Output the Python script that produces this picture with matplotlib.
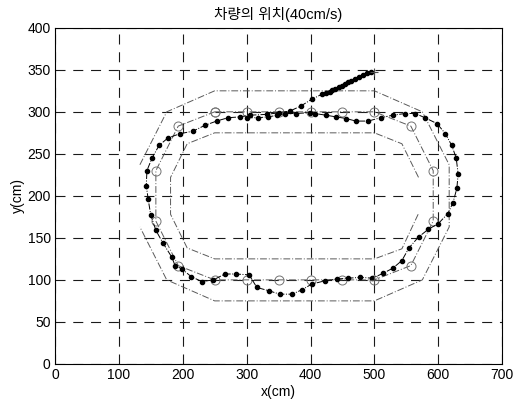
import matplotlib
matplotlib.use("Agg")
import matplotlib.pyplot as plt

plt.rcParams['font.family'] = ['Liberation Sans', 'Noto Sans CJK KR']

# track boundaries (cm)
outer_x = [133, 175, 250, 500, 575, 617, 617, 575, 500, 250, 175, 133]
outer_y = [237, 300, 325, 325, 300, 237, 163, 100, 75, 75, 100, 163]
mid_x = [250, 300, 350, 400, 450, 500, 557, 592, 592, 557, 500, 450, 400, 350, 300, 250, 193, 158, 158, 193, 250]
mid_y = [300, 300, 300, 300, 300, 300, 283, 230, 170, 117, 100, 100, 100, 100, 100, 100, 117, 170, 230, 283, 300]
inner_x = [569, 543, 500, 250, 207, 181, 181, 207, 250, 500, 543, 569]
inner_y = [222, 262, 275, 275, 262, 222, 178, 138, 125, 125, 137, 179]

# vehicle trajectory (cm)
car_x = [300, 318, 334, 348, 360, 377, 399, 407, 424, 440, 456, 471, 490, 510, 529, 548, 564,
         579, 598, 611, 621, 628, 631, 629, 623, 615, 600, 584, 569, 554, 543, 529, 514, 497,
         478, 459, 441, 423, 402, 386, 371, 352, 335, 316, 304, 283, 266, 248, 230, 213, 199,
         188, 183, 169, 158, 150, 146, 143, 144, 152, 163, 177, 196, 216, 235, 253, 271, 290,
         305, 332, 351, 368, 385, 402, 418, 425, 430, 434, 439, 444, 449, 454, 459, 464, 470,
         476, 482, 488, 495]
car_y = [293, 293, 294, 296, 298, 298, 299, 298, 296, 294, 292, 289, 289, 293, 296, 298, 298,
         293, 286, 274, 260, 245, 226, 209, 192, 179, 167, 160, 151, 138, 123, 114, 108, 102,
         103, 102, 101, 99, 95, 88, 83, 83, 87, 91, 106, 107, 107, 100, 98, 104, 113,
         117, 127, 144, 159, 177, 196, 212, 230, 245, 260, 269, 274, 277, 284, 289, 293, 294,
         296, 297, 299, 301, 307, 315, 321, 323, 324, 326, 327, 329, 331, 333, 335, 337, 339,
         342, 344, 346, 347]

fig, ax = plt.subplots(figsize=(5.13, 4.03), dpi=100)
fig.subplots_adjust(left=0.107, right=0.979, bottom=0.097, top=0.931)

track_style = dict(color='0.35', lw=0.7, ls=(0, (7, 2, 1, 2)))
ax.plot(outer_x, outer_y, **track_style)
ax.plot(inner_x, inner_y, **track_style)
ax.plot(mid_x, mid_y, marker='o', ms=6.5, mfc='none', mec='0.45', mew=0.7, **track_style)

ax.plot(car_x, car_y, color='black', lw=0.7, ls='-.', marker='o', ms=3.0, mfc='black', mec='black')
ax.plot([500, 500], [100, 348], ls='none', marker='+', ms=6, color='0.3', mew=0.8)

ax.set_xlim(0, 700)
ax.set_ylim(0, 400)
ax.set_xticks(range(0, 701, 100))
ax.set_yticks(range(0, 401, 50))
ax.tick_params(length=0, labelsize=10, pad=3)
ax.grid(True, color='0.1', lw=0.8, ls=(0, (9, 7)))
for s in ax.spines.values():
    s.set_linewidth(0.8)
ax.set_xlabel("x(cm)", fontsize=10, labelpad=2)
ax.set_ylabel("y(cm)", fontsize=10, labelpad=2)
ax.set_title("차량의 위치(40cm/s)", fontsize=10.5, pad=6)

fig.savefig("out.png", dpi=100)
